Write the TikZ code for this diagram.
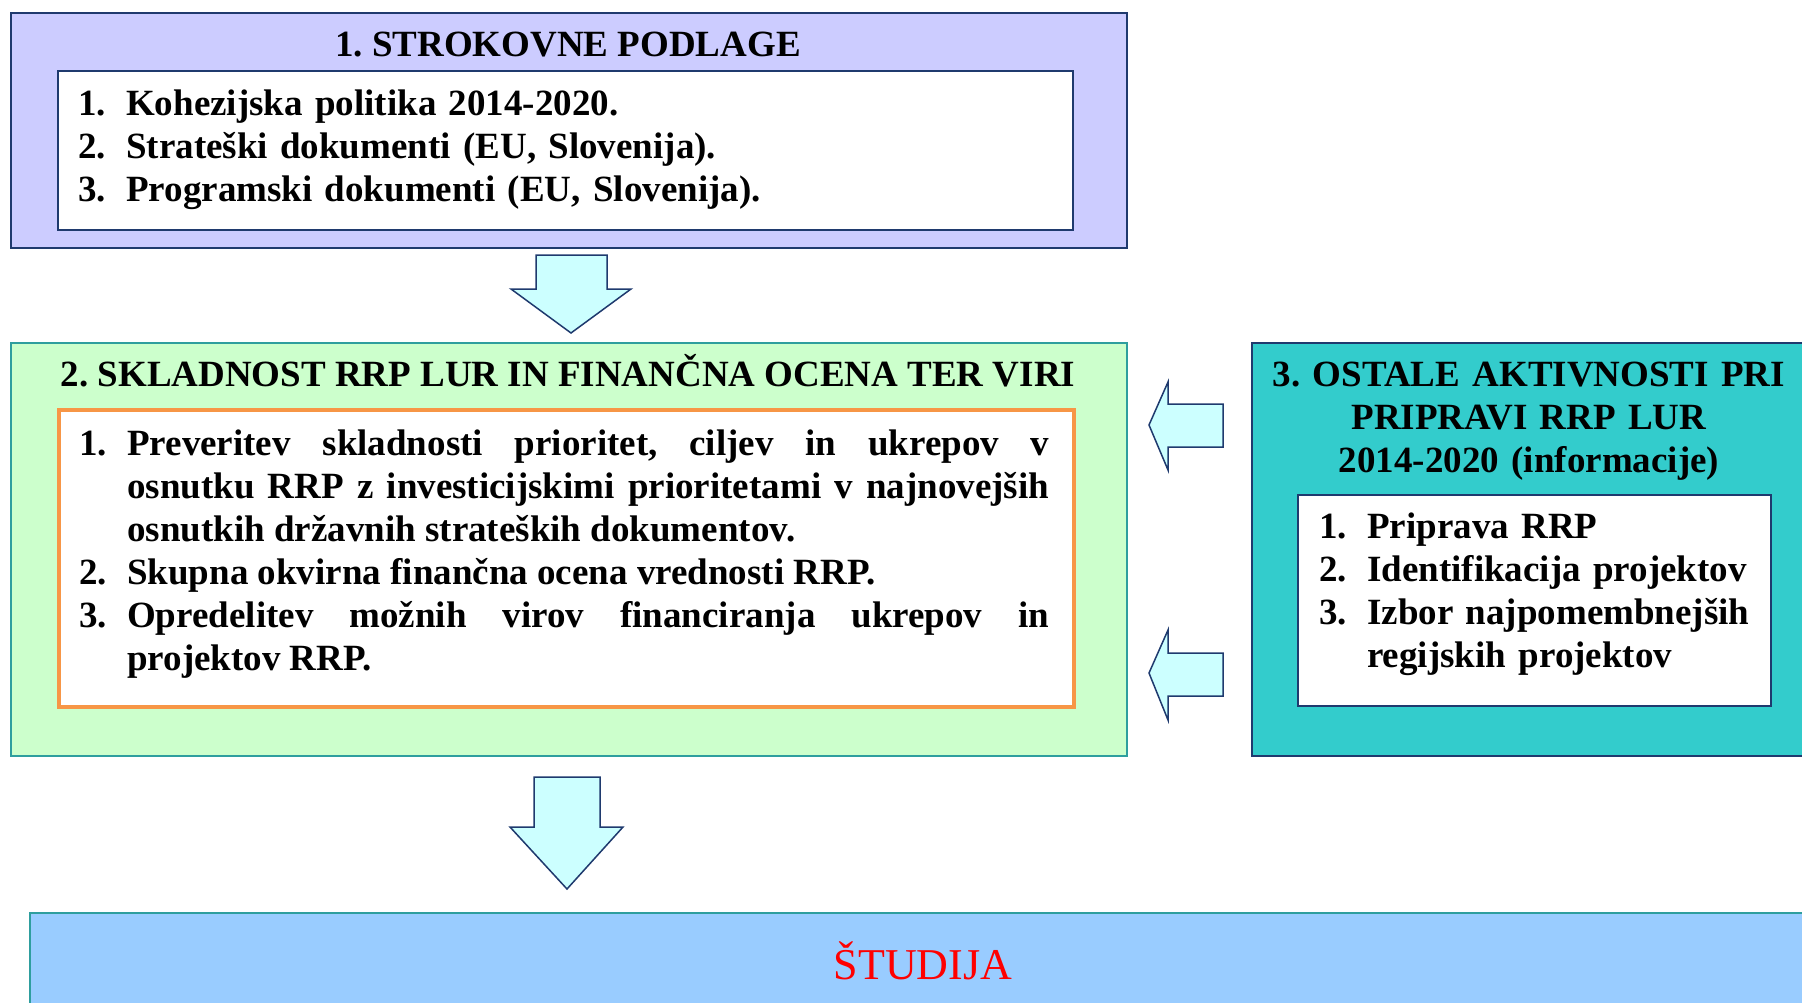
\documentclass[tikz,border=0pt]{standalone}
\usepackage{fontspec}
\setmainfont{Liberation Serif}
\frenchspacing

\definecolor{lilac}{HTML}{CCCCFF}
\definecolor{navy}{HTML}{1F3A6E}
\definecolor{mint}{HTML}{CCFFCC}
\definecolor{tealline}{HTML}{2E9E9E}
\definecolor{orangeline}{HTML}{F79646}
\definecolor{turq}{HTML}{33CCCC}
\definecolor{palecyan}{HTML}{CCFFFF}
\definecolor{sky}{HTML}{99CCFF}

\newcommand{\numitem}[2]{\hangindent=48pt\hangafter=1\noindent\makebox[48pt][l]{#1}#2\par}

\tikzset{
	box/.style={anchor=north west, inner sep=0pt, line width=1.5pt},
	boxtitle/.style={anchor=base, inner sep=0pt, font=\fontsize{37}{43}\selectfont\bfseries},
	items/.style={anchor=base west, inner sep=0pt, font=\fontsize{37}{43}\selectfont\bfseries},
	blockarrow/.style={draw=navy, fill=palecyan, line width=1.5pt, line join=miter}
}

\begin{document}
\begin{tikzpicture}[x=1pt, y=-1pt]
	\useasboundingbox (0,0) rectangle (1802,1002);

	% boxes
	\node[box, draw=navy, fill=lilac, minimum width=1116pt, minimum height=235pt] (podlage) at (10,12) {};
	\node[box, draw=navy, fill=white, minimum width=1015pt, minimum height=159pt] (podlagelist) at (57,70) {};
	\node[box, draw=tealline, fill=mint, minimum width=1116pt, minimum height=413pt] (skladnost) at (10,342) {};
	\node[box, draw=orangeline, line width=3.5pt, fill=white, minimum width=1015pt, minimum height=297pt] (skladnostlist) at (57,408) {};
	\node[box, draw=navy, fill=turq, minimum width=580pt, minimum height=413pt] (ostale) at (1251,342) {};
	\node[box, draw=navy, fill=white, minimum width=473pt, minimum height=211pt] (ostalelist) at (1297,494) {};
	\node[box, draw=tealline, fill=sky, minimum width=1800pt, minimum height=120pt] (studija) at (29,912) {};

	% titles
	\node[boxtitle] (podlagetitle) at (568,56) {1. STROKOVNE PODLAGE};
	\node[boxtitle] (skladnosttitle) at (568,386) {2. SKLADNOST RRP LUR IN FINANČNA OCENA TER VIRI};
	\node[boxtitle, text width=560pt, align=center] (ostaletitle) at (1529,386)
		{3. OSTALE AKTIVNOSTI PRI\\ PRIPRAVI RRP LUR\\ 2014-2020 (informacije)};
	\node[anchor=base, inner sep=0pt, text=red, font=\fontsize{44}{50}\selectfont] (studijatitle) at (923,979) {ŠTUDIJA};

	% lists
	\node[items, text width=980pt, align=left] (podlagetext) at (78,115) {%
		\numitem{1.}{Kohezijska politika 2014-2020.}
		\numitem{2.}{Strateški dokumenti (EU, Slovenija).}
		\numitem{3.}{Programski dokumenti (EU, Slovenija).}};
	\node[items, text width=970pt, align=justify] (skladnosttext) at (79,455) {%
		\numitem{1.}{Preveritev skladnosti prioritet, ciljev in ukrepov v\linebreak osnutku RRP z investicijskimi prioritetami v najnovejših\linebreak osnutkih državnih strateških dokumentov.}
		\numitem{2.}{Skupna okvirna finančna ocena vrednosti RRP.}
		\numitem{3.}{Opredelitev možnih virov financiranja ukrepov in\linebreak projektov RRP.}};
	\node[items, text width=445pt, align=left] (ostaletext) at (1319,538) {%
		\numitem{1.}{Priprava RRP}
		\numitem{2.}{Identifikacija projektov}
		\numitem{3.}{Izbor najpomembnejših\linebreak regijskih projektov}};

	% arrows
	\filldraw[blockarrow] (536,255) -- (607,255) -- (607,289) -- (631,289) -- (571,333) -- (511,289) -- (536,289) -- cycle;
	\filldraw[blockarrow] (1223,404) -- (1223,447) -- (1168,447) -- (1168,470) -- (1149,425) -- (1168,382) -- (1168,404) -- cycle;
	\filldraw[blockarrow] (1223,653) -- (1223,696) -- (1168,696) -- (1168,720) -- (1149,673) -- (1168,630) -- (1168,653) -- cycle;
	\filldraw[blockarrow] (534,777) -- (600,777) -- (600,827) -- (623,827) -- (567,889) -- (510,827) -- (534,827) -- cycle;
\end{tikzpicture}
\end{document}
